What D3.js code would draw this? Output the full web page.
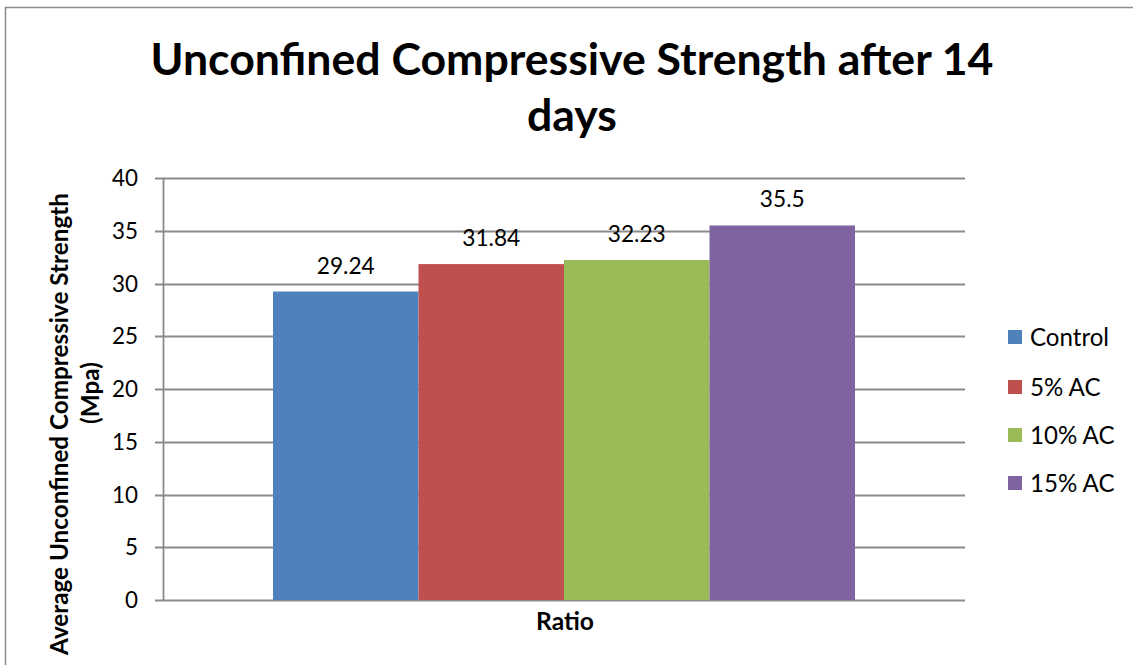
<!DOCTYPE html>
<html>
<head>
<meta charset="utf-8">
<script src="https://cdn.jsdelivr.net/npm/d3@7"></script>
<style>
  html, body { margin: 0; padding: 0; background: #fff; }
  svg { display: block; font-family: Lato, "Open Sans", sans-serif; }
</style>
</head>
<body>
<svg id="chart" width="1133" height="665"></svg>
<script>
// Data
const categories = ["Ratio"];
const seriesNames = ["Control", "5% AC", "10% AC", "15% AC"];
const seriesValues = [29.24, 31.84, 32.23, 35.5];
const yTicks = [0, 5, 10, 15, 20, 25, 30, 35, 40];
const seriesColors = ["#4F81BD", "#C0504D", "#9BBB59", "#8064A2"];

const svg = d3.select("#chart");
const W = 1133, H = 665;

// Resize a group's font so that a sample text spans the given width
function fitGroup(group, sampleNode, width) {
  const base = parseFloat(group.attr("font-size"));
  const len = sampleNode.getComputedTextLength();
  group.attr("font-size", (base * width / len).toFixed(2));
}

// Outer chart frame
svg.append("rect")
  .attr("x", 5.5).attr("y", 7.5)
  .attr("width", W + 10).attr("height", H + 10)
  .attr("fill", "#fff").attr("stroke", "#8c8c8c").attr("stroke-width", 1.5);

const plot = { left: 163, right: 965, top: 178, bottom: 600 };

const y = d3.scaleLinear().domain([0, 40]).range([plot.bottom, plot.top]);
const x0 = d3.scaleBand().domain(categories)
  .range([plot.left, plot.right]).paddingInner(0).paddingOuter(0);
// four bars share the middle of the category, with a gap on both sides
const gap = 110 / 802;
const x1 = d3.scaleBand().domain(seriesNames)
  .range([x0.bandwidth() * gap, x0.bandwidth() * (1 - gap)]).padding(0);

// Gridlines with small outward ticks
svg.append("g").selectAll("line").data(yTicks).join("line")
  .attr("x1", plot.left - 8).attr("x2", plot.right)
  .attr("y1", d => Math.round(y(d)) + 0.5).attr("y2", d => Math.round(y(d)) + 0.5)
  .attr("stroke", "#8a8a8a").attr("stroke-width", 1.8);

// Y axis line
svg.append("line")
  .attr("x1", plot.left + 0.5).attr("x2", plot.left + 0.5)
  .attr("y1", plot.top).attr("y2", plot.bottom + 1)
  .attr("stroke", "#8a8a8a").attr("stroke-width", 1.8);

// Y tick labels
const tickG = svg.append("g").attr("font-size", 20);
const tickTexts = tickG.selectAll("text").data(yTicks).join("text")
  .attr("x", 138).attr("y", d => y(d))
  .attr("dy", "0.36em")
  .attr("text-anchor", "end")
  .attr("fill", "#000")
  .text(d => d);
fitGroup(tickG, tickTexts.filter(d => d === 40).node(), 26);

// Bars
const barsG = svg.append("g");
const labelG = svg.append("g").attr("font-size", 20);
categories.forEach(cat => {
  const rows = seriesNames.map((s, i) => ({ s, v: seriesValues[i], c: seriesColors[i] }));
  barsG.selectAll("rect").data(rows).join("rect")
    .attr("x", d => x0(cat) + x1(d.s))
    .attr("width", x1.bandwidth())
    .attr("y", d => y(d.v))
    .attr("height", d => y(0) - y(d.v))
    .attr("fill", d => d.c);

  // Value labels
  const lbl = labelG.selectAll("text").data(rows).join("text")
    .attr("x", d => x0(cat) + x1(d.s) + x1.bandwidth() / 2)
    .attr("y", d => y(d.v) - 18)
    .attr("text-anchor", "middle")
    .attr("fill", "#000")
    .text(d => d.v);
  fitGroup(labelG, lbl.node(), 58);
});

// Category axis title
const catG = svg.append("g").attr("font-size", 18).attr("font-weight", "bold");
const catT = catG.append("text")
  .attr("x", x0(categories[0]) + x0.bandwidth() / 2 + 1).attr("y", 630)
  .attr("text-anchor", "middle")
  .text(categories[0]);
fitGroup(catG, catT.node(), 58);

// Title
const title = svg.append("g").attr("font-weight", "bold").attr("font-size", 40);
const t1 = title.append("text").attr("x", 572).attr("y", 75).attr("text-anchor", "middle")
  .text("Unconfined Compressive Strength after 14");
title.append("text").attr("x", 572).attr("y", 131).attr("text-anchor", "middle")
  .text("days");
fitGroup(title, t1.node(), 843);

// Y axis title (two lines)
const yt = svg.append("g").attr("font-weight", "bold").attr("font-size", 18);
const yt1 = yt.append("text").attr("transform", "translate(68,424) rotate(-90)")
  .attr("text-anchor", "middle").text("Average Unconfined Compressive Strength");
yt.append("text").attr("transform", "translate(99,393) rotate(-90)")
  .attr("text-anchor", "middle").text("(Mpa)");
fitGroup(yt, yt1.node(), 462);

// Legend
const legend = svg.append("g").attr("font-size", 20);
const rowY = [337, 387, 435, 483];
let firstLegendText = null;
seriesNames.forEach((s, i) => {
  legend.append("rect").attr("x", 1008).attr("y", rowY[i] - 7)
    .attr("width", 14).attr("height", 14).attr("fill", seriesColors[i]);
  const t = legend.append("text").attr("x", 1030).attr("y", rowY[i]).attr("dy", "0.36em")
    .text(s);
  if (i === 0) firstLegendText = t.node();
});
fitGroup(legend, firstLegendText, 79);
</script>
</body>
</html>
